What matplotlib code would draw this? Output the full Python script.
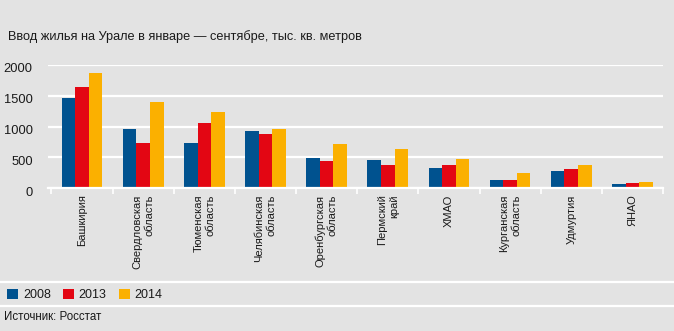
import matplotlib
matplotlib.use("Agg")
import matplotlib.pyplot as plt
import matplotlib.transforms as mtransforms
import numpy as np
from matplotlib.patches import Patch
from matplotlib.lines import Line2D

categories = ["Башкирия", "Свердловская\nобласть", "Тюменская\nобласть",
              "Челябинская\nобласть", "Оренбургская\nобласть", "Пермский\nкрай",
              "ХМАО", "Курганская\nобласть", "Удмуртия", "ЯНАО"]
years = ["2008", "2013", "2014"]
v2008 = [1459, 957, 740, 935, 497, 454, 335, 140, 281, 65]
v2013 = [1649, 740, 1054, 881, 449, 378, 378, 140, 308, 92]
v2014 = [1865, 1405, 1243, 957, 713, 643, 470, 254, 378, 108]
yticks = [0, 500, 1000, 1500, 2000]

colors = ["#00528f", "#e30613", "#fbb000"]
bg = "#e3e3e3"
txt = "#1a1a1a"
FONT = ["Liberation Sans Narrow", "Liberation Sans", "DejaVu Sans"]
plt.rcParams["font.family"] = FONT

W, H = 674, 331
fig = plt.figure(figsize=(W / 100, H / 100), dpi=100, facecolor=bg)
ax = fig.add_axes([48 / W, 1 - 188.3 / H, (663 - 48) / W, (188.3 - 65) / H])
ax.set_facecolor(bg)

x = np.arange(len(categories))
bw = 0.222
for i, (vals, c) in enumerate(zip([v2008, v2013, v2014], colors)):
    ax.bar(x + (i - 1) * bw, vals, width=bw, color=c, zorder=3, linewidth=0)

ax.set_ylim(0, 2000)
ax.set_xlim(-0.556, 9.49)
ax.set_yticks(yticks)
ax.set_yticklabels([str(t) for t in yticks], fontsize=9.3, color=txt)
ax.tick_params(axis="y", length=0, pad=11)
offset = mtransforms.ScaledTranslation(0, -3 / 100, fig.dpi_scale_trans)
for lab in ax.get_yticklabels():
    lab.set_transform(lab.get_transform() + offset)
ax.grid(axis="y", color="white", linewidth=1.6, zorder=1)
for s in ["top", "right", "left"]:
    ax.spines[s].set_visible(False)
ax.spines["bottom"].set_color("white")
ax.spines["bottom"].set_linewidth(1.6)
ax.spines["bottom"].set_zorder(4)

# separator ticks between groups
ax.set_xticks(np.arange(len(categories) + 1) - 0.5, minor=True)
ax.tick_params(axis="x", which="minor", length=4, color="white", width=1.2)
ax.set_xticks(x)
ax.set_xticklabels(categories, rotation=90, fontsize=8.0, color=txt,
                   va="top", ha="center", multialignment="right", linespacing=1.25)
ax.tick_params(axis="x", which="major", length=0, pad=4.5)

fig.text(8 / W, 1 - 37 / H, "Ввод жилья на Урале в январе — сентябре, тыс. кв. метров",
         fontsize=9.2, color=txt, va="center", ha="left")

# separator lines
for yy in [282, 306]:
    fig.add_artist(Line2D([0, 1], [1 - yy / H, 1 - yy / H], color="white",
                          linewidth=1.6, transform=fig.transFigure))

handles = [Patch(facecolor=c, edgecolor="none") for c in colors]
fig.legend(handles, years, loc="center left", bbox_to_anchor=(7 / W, 1 - 295 / H),
           ncol=3, frameon=False, fontsize=9, handlelength=0.88, handleheight=0.85,
           handletextpad=0.4, columnspacing=0.95, borderaxespad=0, borderpad=0,
           labelcolor=txt)

fig.text(4 / W, 1 - 317 / H, "Источник: Росстат", fontsize=8.3, color=txt,
         va="center", ha="left")

fig.savefig("out.png", dpi=100, facecolor=bg)
